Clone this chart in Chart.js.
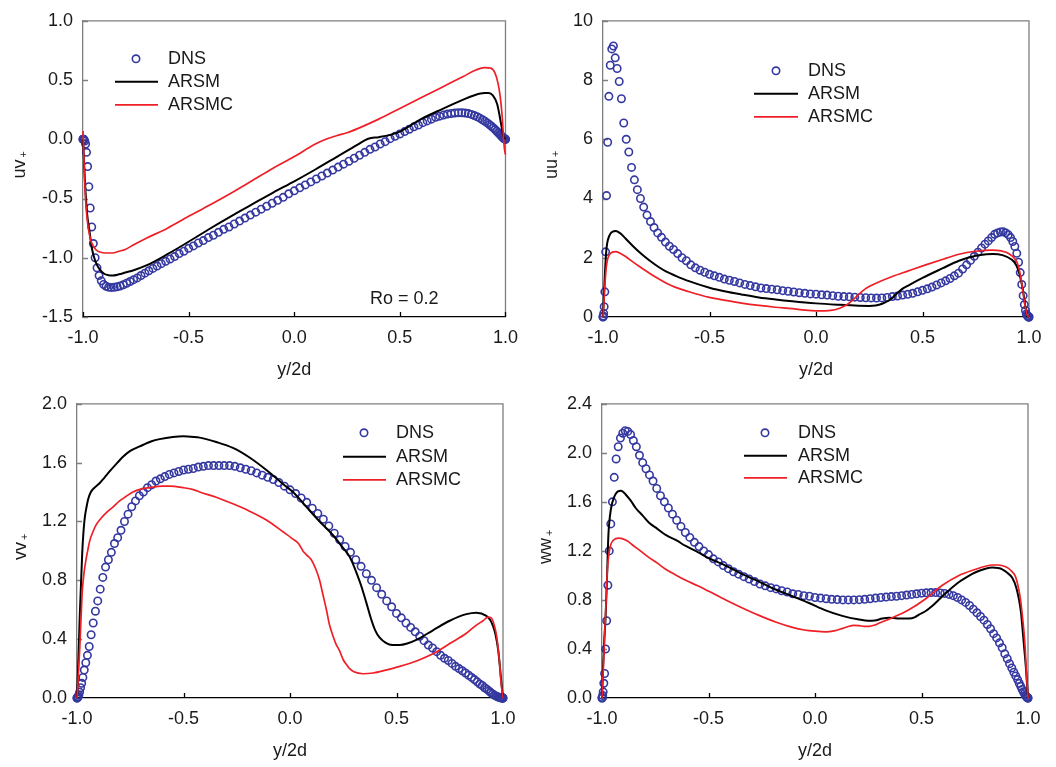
<!DOCTYPE html>
<html>
<head>
<meta charset="utf-8">
<title>Reynolds stresses, Ro = 0.2</title>
<script src="https://cdn.jsdelivr.net/npm/chart.js@4.4.1/dist/chart.umd.min.js"></script>
<style>
  html, body { margin: 0; padding: 0; background: #fff; }
  #figure { position: relative; width: 1056px; height: 767px; overflow: hidden; }
  #figure canvas { position: absolute; }
</style>
</head>
<body>
<div id="figure">
  <canvas id="pUV" width="528" height="383" style="left:0;top:0;width:528px;height:383px"></canvas>
  <canvas id="pUU" width="528" height="383" style="left:528px;top:0;width:528px;height:383px"></canvas>
  <canvas id="pVV" width="528" height="384" style="left:0;top:383px;width:528px;height:384px"></canvas>
  <canvas id="pWW" width="528" height="384" style="left:528px;top:383px;width:528px;height:384px"></canvas>
</div>
<script>
// Wall-normal positions of the DNS samples (y/2d)
const Y2D = [
  -1, -0.9997, -0.9986, -0.9969, -0.9945, -0.9914, -0.9877, -0.9833, -0.9781, -0.9724,
  -0.9659, -0.9588, -0.9511, -0.9426, -0.9336, -0.9239, -0.9135, -0.9026, -0.8910, -0.8788,
  -0.8660, -0.8526, -0.8387, -0.8241, -0.8090, -0.7934, -0.7771, -0.7604, -0.7431, -0.7254,
  -0.7071, -0.6884, -0.6691, -0.6494, -0.6293, -0.6088, -0.5878, -0.5664, -0.5446, -0.5225,
  -0.5000, -0.4772, -0.4540, -0.4305, -0.4067, -0.3827, -0.3584, -0.3338, -0.3090, -0.2840,
  -0.2588, -0.2334, -0.2079, -0.1822, -0.1564, -0.1305, -0.1045, -0.0785, -0.0523, -0.0262,
  0,
  0.0262, 0.0523, 0.0785, 0.1045, 0.1305, 0.1564, 0.1822, 0.2079, 0.2334, 0.2588,
  0.2840, 0.3090, 0.3338, 0.3584, 0.3827, 0.4067, 0.4305, 0.4540, 0.4772, 0.5000,
  0.5225, 0.5446, 0.5664, 0.5878, 0.6088, 0.6293, 0.6494, 0.6691, 0.6884, 0.7071,
  0.7254, 0.7431, 0.7604, 0.7771, 0.7934, 0.8090, 0.8241, 0.8387, 0.8526, 0.8660,
  0.8788, 0.8910, 0.9026, 0.9135, 0.9239, 0.9336, 0.9426, 0.9511, 0.9588, 0.9659,
  0.9724, 0.9781, 0.9833, 0.9877, 0.9914, 0.9945, 0.9969, 0.9986, 0.9997, 1
];

// DNS profiles at the positions above
const DNS_UV = [
  0, 0, 0, 0, -0.005, -0.015, -0.04, -0.11, -0.23, -0.40,
  -0.58, -0.74, -0.88, -1.0, -1.085, -1.15, -1.195, -1.225, -1.24, -1.248,
  -1.25, -1.249, -1.245, -1.238, -1.228, -1.215, -1.20, -1.185, -1.17, -1.15,
  -1.13, -1.11, -1.09, -1.07, -1.05, -1.03, -1.01, -0.99, -0.965, -0.945,
  -0.92, -0.90, -0.875, -0.855, -0.83, -0.81, -0.785, -0.76, -0.74, -0.715,
  -0.69, -0.665, -0.64, -0.615, -0.59, -0.565, -0.54, -0.515, -0.49, -0.46,
  -0.435,
  -0.41, -0.385, -0.36, -0.335, -0.31, -0.285, -0.26, -0.235, -0.21, -0.185,
  -0.16, -0.135, -0.11, -0.085, -0.065, -0.04, -0.02, 0.005, 0.025, 0.045,
  0.065, 0.085, 0.105, 0.12, 0.14, 0.155, 0.17, 0.185, 0.195, 0.205,
  0.213, 0.218, 0.222, 0.224, 0.224, 0.222, 0.217, 0.21, 0.20, 0.19,
  0.178, 0.165, 0.152, 0.138, 0.124, 0.11, 0.096, 0.082, 0.068, 0.055,
  0.043, 0.032, 0.023, 0.015, 0.009, 0.005, 0.002, 0.001, 0, 0
];
const DNS_UU = [
  0, 0.01, 0.03, 0.12, 0.35, 0.85, 2.2, 4.1, 5.9, 7.45,
  8.5, 9.05, 9.15, 8.75, 8.39, 7.95, 7.37, 6.55, 6.0, 5.57,
  5.05, 4.63, 4.3, 4.0, 3.71, 3.44, 3.22, 3.02, 2.84, 2.69,
  2.53, 2.39, 2.28, 2.14, 2.0, 1.9, 1.76, 1.66, 1.58, 1.51,
  1.44, 1.39, 1.34, 1.28, 1.24, 1.2, 1.15, 1.1, 1.06, 1.02,
  0.98, 0.96, 0.94, 0.92, 0.89, 0.87, 0.845, 0.82, 0.8, 0.78,
  0.77,
  0.75, 0.74, 0.72, 0.7, 0.69, 0.68, 0.67, 0.66, 0.65, 0.645,
  0.64, 0.645, 0.66, 0.69, 0.71, 0.74, 0.765, 0.8, 0.85, 0.9,
  0.95, 1.01, 1.08, 1.15, 1.22, 1.3, 1.39, 1.48, 1.62, 1.76,
  1.91, 2.05, 2.19, 2.33, 2.46, 2.57, 2.68, 2.79, 2.84, 2.87,
  2.88, 2.84, 2.78, 2.68, 2.55, 2.38, 2.15, 1.85, 1.5, 1.1,
  0.72, 0.42, 0.22, 0.1, 0.05, 0.02, 0.01, 0, 0, 0
];
const DNS_VV = [
  0, 0, 0.001, 0.004, 0.01, 0.02, 0.04, 0.07, 0.1, 0.14,
  0.19, 0.24, 0.29, 0.35, 0.43, 0.51, 0.59, 0.66, 0.74, 0.82,
  0.89, 0.94, 0.99, 1.05, 1.09, 1.14, 1.2, 1.25, 1.3, 1.34,
  1.375, 1.4, 1.43, 1.45, 1.475, 1.49, 1.505, 1.52, 1.53, 1.54,
  1.55, 1.555, 1.56, 1.57, 1.575, 1.58, 1.58, 1.58, 1.58, 1.58,
  1.575, 1.565, 1.555, 1.545, 1.53, 1.515, 1.5, 1.485, 1.465, 1.44,
  1.415,
  1.39, 1.36, 1.33, 1.29, 1.255, 1.215, 1.17, 1.12, 1.075, 1.03,
  0.99, 0.94, 0.895, 0.845, 0.8, 0.75, 0.705, 0.66, 0.62, 0.575,
  0.545, 0.51, 0.48, 0.45, 0.42, 0.39, 0.36, 0.34, 0.315, 0.29,
  0.27, 0.255, 0.235, 0.215, 0.2, 0.185, 0.17, 0.155, 0.14, 0.125,
  0.11, 0.095, 0.085, 0.07, 0.06, 0.048, 0.037, 0.028, 0.02, 0.014,
  0.009, 0.006, 0.004, 0.002, 0.001, 0, 0, 0, 0, 0
];
const DNS_WW = [
  0, 0, 0.005, 0.02, 0.05, 0.12, 0.2, 0.4, 0.63, 0.92,
  1.2, 1.42, 1.6, 1.8, 1.95, 2.05, 2.12, 2.16, 2.18, 2.175,
  2.15, 2.1, 2.05, 1.98, 1.92, 1.87, 1.82, 1.77, 1.71, 1.65,
  1.6, 1.55, 1.5, 1.45, 1.4, 1.35, 1.31, 1.27, 1.235, 1.2,
  1.17, 1.135, 1.11, 1.08, 1.055, 1.03, 1.01, 0.99, 0.97, 0.95,
  0.93, 0.915, 0.9, 0.89, 0.875, 0.865, 0.85, 0.845, 0.835, 0.83,
  0.82,
  0.815, 0.81, 0.805, 0.803, 0.8, 0.8, 0.8, 0.802, 0.805, 0.81,
  0.815, 0.82, 0.823, 0.827, 0.83, 0.835, 0.84, 0.845, 0.85, 0.855,
  0.858, 0.86, 0.86, 0.857, 0.853, 0.845, 0.835, 0.82, 0.8, 0.78,
  0.755, 0.725, 0.695, 0.665, 0.635, 0.6, 0.565, 0.525, 0.49, 0.45,
  0.41, 0.36, 0.32, 0.28, 0.245, 0.21, 0.18, 0.15, 0.12, 0.095,
  0.07, 0.05, 0.035, 0.022, 0.013, 0.006, 0.003, 0.001, 0, 0
];

// Model predictions: [y/2d, value]
const ARSM_UV = [[-1,0],[-0.995,-0.2],[-0.99,-0.38],[-0.981,-0.62],[-0.969,-0.78],[-0.958,-0.92],[-0.945,-1.01],[-0.934,-1.06],[-0.92,-1.1],[-0.9,-1.135],[-0.88,-1.147],[-0.86,-1.15],[-0.83,-1.14],[-0.8,-1.125],[-0.76,-1.105],[-0.7,-1.065],[-0.6,-0.97],[-0.5,-0.865],[-0.4,-0.755],[-0.3,-0.65],[-0.2,-0.55],[-0.1,-0.45],[0,-0.355],[0.1,-0.255],[0.2,-0.15],[0.3,-0.045],[0.35,0.005],[0.4,0.018],[0.45,0.035],[0.5,0.065],[0.6,0.17],[0.7,0.255],[0.8,0.335],[0.85,0.37],[0.9,0.39],[0.92,0.39],[0.94,0.37],[0.96,0.3],[0.97,0.22],[0.98,0.12],[0.99,0.03],[1,0]];
const ARSMC_UV = [[-1,0.07],[-0.997,-0.1],[-0.993,-0.3],[-0.988,-0.5],[-0.98,-0.68],[-0.97,-0.8],[-0.96,-0.87],[-0.94,-0.93],[-0.92,-0.952],[-0.89,-0.96],[-0.86,-0.96],[-0.83,-0.945],[-0.8,-0.93],[-0.76,-0.89],[-0.7,-0.835],[-0.6,-0.75],[-0.5,-0.65],[-0.4,-0.555],[-0.3,-0.455],[-0.2,-0.35],[-0.1,-0.245],[0,-0.146],[0.1,-0.04],[0.15,0.0],[0.2,0.03],[0.25,0.055],[0.3,0.09],[0.4,0.17],[0.5,0.26],[0.6,0.35],[0.7,0.44],[0.8,0.53],[0.86,0.585],[0.9,0.605],[0.93,0.6],[0.95,0.56],[0.965,0.47],[0.975,0.36],[0.985,0.18],[0.99,0.03],[0.995,-0.08],[1,-0.13]];

const ARSM_UU = [[-1,0],[-0.995,0.8],[-0.99,1.6],[-0.985,2.2],[-0.98,2.5],[-0.97,2.75],[-0.955,2.88],[-0.94,2.9],[-0.92,2.83],[-0.894,2.65],[-0.86,2.4],[-0.815,2.1],[-0.78,1.9],[-0.737,1.68],[-0.7,1.52],[-0.659,1.39],[-0.6,1.22],[-0.5,0.99],[-0.424,0.86],[-0.35,0.76],[-0.268,0.66],[-0.19,0.59],[-0.111,0.53],[0,0.46],[0.1,0.415],[0.2,0.38],[0.25,0.375],[0.28,0.39],[0.3,0.42],[0.327,0.5],[0.35,0.6],[0.374,0.75],[0.405,0.95],[0.437,1.08],[0.5,1.32],[0.593,1.64],[0.671,1.9],[0.75,2.07],[0.8,2.12],[0.83,2.13],[0.875,2.09],[0.92,1.93],[0.94,1.75],[0.953,1.5],[0.962,1.25],[0.97,0.97],[0.978,0.6],[0.984,0.3],[0.992,0.06],[1,0]];
const ARSMC_UU = [[-1,0],[-0.995,0.6],[-0.99,1.2],[-0.985,1.65],[-0.98,1.9],[-0.97,2.1],[-0.955,2.19],[-0.94,2.21],[-0.92,2.15],[-0.894,2.04],[-0.86,1.86],[-0.815,1.64],[-0.78,1.47],[-0.737,1.28],[-0.7,1.13],[-0.659,1.0],[-0.6,0.86],[-0.5,0.66],[-0.424,0.56],[-0.35,0.47],[-0.268,0.39],[-0.19,0.33],[-0.111,0.28],[-0.05,0.23],[0,0.21],[0.04,0.21],[0.077,0.23],[0.1,0.27],[0.124,0.34],[0.15,0.44],[0.171,0.56],[0.2,0.76],[0.23,0.94],[0.264,1.08],[0.3,1.2],[0.358,1.37],[0.43,1.55],[0.515,1.76],[0.6,1.96],[0.671,2.12],[0.75,2.22],[0.828,2.26],[0.87,2.23],[0.9,2.16],[0.937,1.93],[0.95,1.72],[0.961,1.35],[0.97,0.95],[0.977,0.58],[0.985,0.26],[0.992,0.06],[1,0]];

const ARSM_VV = [[-1,0],[-0.995,0.2],[-0.99,0.42],[-0.987,0.56],[-0.98,0.82],[-0.975,1.0],[-0.97,1.12],[-0.964,1.22],[-0.955,1.3],[-0.948,1.35],[-0.935,1.4],[-0.925,1.42],[-0.91,1.44],[-0.894,1.46],[-0.87,1.5],[-0.847,1.54],[-0.81,1.6],[-0.784,1.64],[-0.75,1.68],[-0.706,1.71],[-0.65,1.745],[-0.612,1.76],[-0.55,1.775],[-0.502,1.78],[-0.45,1.775],[-0.424,1.77],[-0.346,1.74],[-0.268,1.7],[-0.19,1.635],[-0.111,1.55],[-0.033,1.455],[0.014,1.4],[0.077,1.3],[0.139,1.2],[0.2,1.11],[0.249,1.02],[0.28,0.96],[0.296,0.91],[0.315,0.84],[0.335,0.76],[0.358,0.65],[0.38,0.54],[0.4,0.46],[0.421,0.41],[0.45,0.375],[0.48,0.36],[0.515,0.36],[0.55,0.37],[0.593,0.395],[0.671,0.46],[0.75,0.525],[0.828,0.57],[0.875,0.58],[0.92,0.56],[0.94,0.53],[0.953,0.49],[0.965,0.43],[0.977,0.33],[0.985,0.22],[0.992,0.11],[1,0]];
const ARSMC_VV = [[-1,0],[-0.995,0.12],[-0.99,0.26],[-0.987,0.34],[-0.98,0.58],[-0.975,0.73],[-0.967,0.85],[-0.959,0.93],[-0.95,1.0],[-0.94,1.07],[-0.925,1.13],[-0.909,1.18],[-0.885,1.225],[-0.862,1.26],[-0.83,1.3],[-0.8,1.34],[-0.77,1.37],[-0.737,1.4],[-0.7,1.42],[-0.659,1.43],[-0.6,1.44],[-0.565,1.44],[-0.502,1.43],[-0.45,1.415],[-0.424,1.4],[-0.346,1.365],[-0.268,1.32],[-0.19,1.27],[-0.111,1.21],[-0.033,1.13],[0.014,1.08],[0.04,1.05],[0.061,1.0],[0.08,0.97],[0.1,0.94],[0.12,0.88],[0.139,0.8],[0.155,0.7],[0.171,0.6],[0.185,0.5],[0.2,0.43],[0.215,0.37],[0.233,0.32],[0.25,0.26],[0.264,0.23],[0.28,0.2],[0.3,0.178],[0.343,0.165],[0.39,0.17],[0.45,0.19],[0.515,0.215],[0.6,0.255],[0.671,0.3],[0.75,0.37],[0.828,0.44],[0.87,0.49],[0.906,0.525],[0.93,0.55],[0.945,0.545],[0.96,0.49],[0.97,0.42],[0.977,0.34],[0.985,0.22],[0.99,0.12],[1,0]];

const ARSM_WW = [[-1,0],[-0.995,0.25],[-0.99,0.45],[-0.983,0.67],[-0.977,0.95],[-0.97,1.33],[-0.963,1.48],[-0.955,1.57],[-0.945,1.63],[-0.936,1.665],[-0.925,1.685],[-0.912,1.69],[-0.9,1.68],[-0.889,1.66],[-0.865,1.61],[-0.842,1.55],[-0.81,1.49],[-0.779,1.43],[-0.74,1.38],[-0.701,1.33],[-0.65,1.285],[-0.607,1.24],[-0.55,1.19],[-0.498,1.14],[-0.419,1.08],[-0.341,1.01],[-0.263,0.95],[-0.185,0.885],[-0.106,0.83],[-0.028,0.775],[0.05,0.715],[0.128,0.67],[0.207,0.64],[0.25,0.63],[0.28,0.632],[0.316,0.648],[0.347,0.655],[0.37,0.652],[0.394,0.648],[0.441,0.648],[0.47,0.66],[0.488,0.68],[0.52,0.71],[0.55,0.75],[0.58,0.8],[0.613,0.854],[0.676,0.946],[0.72,0.995],[0.754,1.026],[0.8,1.055],[0.832,1.065],[0.86,1.06],[0.879,1.05],[0.9,1.025],[0.926,0.98],[0.945,0.9],[0.958,0.8],[0.967,0.7],[0.973,0.59],[0.98,0.45],[0.99,0.25],[1,0]];
const ARSMC_WW = [[-1,0],[-0.995,0.2],[-0.99,0.4],[-0.987,0.54],[-0.98,0.82],[-0.975,1.04],[-0.968,1.17],[-0.959,1.25],[-0.948,1.285],[-0.936,1.3],[-0.92,1.305],[-0.905,1.3],[-0.88,1.28],[-0.858,1.25],[-0.82,1.2],[-0.779,1.145],[-0.74,1.1],[-0.701,1.05],[-0.65,1.0],[-0.607,0.96],[-0.55,0.915],[-0.498,0.87],[-0.419,0.8],[-0.341,0.735],[-0.263,0.674],[-0.185,0.62],[-0.106,0.576],[-0.05,0.555],[0,0.545],[0.05,0.54],[0.09,0.548],[0.13,0.568],[0.16,0.585],[0.18,0.592],[0.207,0.59],[0.23,0.585],[0.254,0.584],[0.28,0.595],[0.3,0.61],[0.363,0.655],[0.441,0.72],[0.52,0.81],[0.598,0.92],[0.676,1.0],[0.754,1.05],[0.8,1.075],[0.832,1.085],[0.86,1.085],[0.895,1.07],[0.92,1.04],[0.942,0.986],[0.955,0.9],[0.965,0.8],[0.973,0.68],[0.981,0.54],[0.987,0.4],[0.992,0.22],[1,0]];

// Axis ticks and their labels
const X_TICKS = [-1, -0.5, 0, 0.5, 1];
const X_TICK_LABELS = ['-1.0', '-0.5', '0.0', '0.5', '1.0'];
const UV_TICKS = [-1.5, -1, -0.5, 0, 0.5, 1];
const UV_TICK_LABELS = ['-1.5', '-1.0', '-0.5', '0.0', '0.5', '1.0'];
const UU_TICKS = [0, 2, 4, 6, 8, 10];
const UU_TICK_LABELS = ['0', '2', '4', '6', '8', '10'];
const VV_TICKS = [0, 0.4, 0.8, 1.2, 1.6, 2.0];
const VV_TICK_LABELS = ['0.0', '0.4', '0.8', '1.2', '1.6', '2.0'];
const WW_TICKS = [0, 0.4, 0.8, 1.2, 1.6, 2.0, 2.4];
const WW_TICK_LABELS = ['0.0', '0.4', '0.8', '1.2', '1.6', '2.0', '2.4'];

const SERIES_NAMES = ['DNS', 'ARSM', 'ARSMC'];

const FONT_FAMILY = "'Liberation Sans', Arial, Helvetica, sans-serif";
const TEXT = '#1a1a1a';
const BLUE = '#3438a0';
const RED = '#ee1f26';
const GREY = '#7f7f7f';

Chart.defaults.font.family = FONT_FAMILY;

// closed frame and inward-pointing tick marks
const framePlugin = {
  id: 'frame',
  beforeDatasetsDraw(chart) {
    const { ctx, chartArea: a, scales: { x, y } } = chart;
    ctx.save();
    ctx.lineWidth = 1.3;
    ctx.strokeStyle = GREY;
    ctx.beginPath();
    ctx.moveTo(a.left, a.top);
    ctx.lineTo(a.right, a.top);
    ctx.lineTo(a.right, a.bottom);
    ctx.stroke();
    ctx.beginPath();
    y.ticks.forEach(t => {
      const py = Math.round(y.getPixelForValue(t.value)) + 0.5;
      ctx.moveTo(a.left, py);
      ctx.lineTo(a.left + 5, py);
    });
    ctx.stroke();
    ctx.strokeStyle = '#000';
    ctx.beginPath();
    x.ticks.forEach(t => {
      const px = Math.round(x.getPixelForValue(t.value)) + 0.5;
      ctx.moveTo(px, a.bottom);
      ctx.lineTo(px, a.bottom - 5);
    });
    ctx.stroke();
    ctx.restore();
  }
};

// series key, the "+" of the y title and an optional note
function keyPlugin(spec) {
  return {
    id: 'seriesKey',
    afterDraw(chart) {
      const { ctx, chartArea: a, scales: { y } } = chart;
      const k = spec.key;
      ctx.save();
      ctx.font = `18px ${FONT_FAMILY}`;
      ctx.fillStyle = TEXT;
      ctx.textAlign = 'left';
      ctx.textBaseline = 'middle';
      chart.data.datasets.forEach((ds, i) => {
        const yy = a.top + k.rows[i];
        if (i === 0) {
          ctx.beginPath();
          ctx.lineWidth = ds.pointBorderWidth;
          ctx.strokeStyle = ds.pointBorderColor;
          ctx.arc(a.left + k.marker, yy, ds.pointRadius, 0, Math.PI * 2);
          ctx.stroke();
        } else {
          ctx.beginPath();
          ctx.lineWidth = ds.borderWidth;
          ctx.strokeStyle = ds.borderColor;
          ctx.moveTo(a.left + k.line[0], yy);
          ctx.lineTo(a.left + k.line[1], yy);
          ctx.stroke();
        }
        ctx.fillText(ds.label, a.left + k.text, yy);
      });
      if (spec.note) {
        ctx.fillText(spec.note.text, a.left + spec.note.x, a.top + spec.note.y);
      }
      // "+" mark that follows the rotated y title
      const titleX = y.left + 10.8 + spec.yTitlePad;
      const titleMid = (y.top + y.bottom) / 2;
      const w = ctx.measureText(spec.yTitle).width;
      ctx.translate(titleX + 4, titleMid - w / 2 - 5);
      ctx.rotate(-Math.PI / 2);
      ctx.font = `11px ${FONT_FAMILY}`;
      ctx.textAlign = 'center';
      ctx.fillText('+', 0, 0);
      ctx.restore();
    }
  };
}

function makePanel(spec) {
  const axisFont = { family: FONT_FAMILY, size: 18, lineHeight: 1.2 };
  return new Chart(document.getElementById(spec.id), {
    type: 'scatter',
    data: {
      datasets: [
        {
          label: SERIES_NAMES[0],
          data: Y2D.map((x, i) => ({ x, y: spec.dns[i] })),
          showLine: false,
          pointStyle: 'circle',
          pointRadius: 3.7,
          pointBorderWidth: 1.6,
          pointBorderColor: BLUE,
          pointBackgroundColor: 'rgba(0,0,0,0)',
          order: 3,
          clip: false
        },
        {
          label: SERIES_NAMES[1],
          data: spec.arsm.map(([x, y]) => ({ x, y })),
          showLine: true,
          pointRadius: 0,
          borderColor: '#000',
          borderWidth: 2,
          cubicInterpolationMode: 'monotone',
          order: 2,
          clip: false
        },
        {
          label: SERIES_NAMES[2],
          data: spec.arsmc.map(([x, y]) => ({ x, y })),
          showLine: true,
          pointRadius: 0,
          borderColor: RED,
          borderWidth: 1.7,
          cubicInterpolationMode: 'monotone',
          order: 1,
          clip: false
        }
      ]
    },
    options: {
      responsive: false,
      animation: false,
      devicePixelRatio: 1,
      events: [],
      layout: { padding: { left: 0, top: spec.pad.top, right: spec.pad.right, bottom: spec.pad.bottom } },
      plugins: { legend: { display: false }, tooltip: { enabled: false } },
      scales: {
        x: {
          type: 'linear',
          min: -1,
          max: 1,
          afterBuildTicks: s => { s.ticks = X_TICKS.map(v => ({ value: v })); },
          afterFit: s => { s.height = 64; },
          ticks: {
            callback: (v, i) => X_TICK_LABELS[i],
            font: axisFont, color: TEXT, padding: 10,
            maxRotation: 0, minRotation: 0, autoSkip: false
          },
          grid: { display: false, drawTicks: false },
          border: { display: true, color: '#000', width: 1.3 },
          title: { display: true, text: 'y/2d', font: axisFont, color: TEXT, padding: { top: 0, bottom: 0 } }
        },
        y: {
          type: 'linear',
          min: spec.yTicks[0],
          max: spec.yTicks[spec.yTicks.length - 1],
          afterBuildTicks: s => { s.ticks = spec.yTicks.map(v => ({ value: v })); },
          afterFit: s => { s.width = spec.yWidth; },
          ticks: {
            callback: (v, i) => spec.yLabels[i],
            font: axisFont, color: TEXT, padding: 10, autoSkip: false
          },
          grid: { display: false, drawTicks: false },
          border: { display: true, color: GREY, width: 1.3 },
          title: { display: true, text: spec.yTitle, font: axisFont, color: TEXT, padding: { top: spec.yTitlePad, bottom: 0 } }
        }
      }
    },
    plugins: [framePlugin, keyPlugin(spec)]
  });
}

makePanel({
  id: 'pUV', dns: DNS_UV, arsm: ARSM_UV, arsmc: ARSMC_UV,
  yTicks: UV_TICKS, yLabels: UV_TICK_LABELS, yTitle: 'uv',
  yWidth: 83, yTitlePad: 9, pad: { top: 15, right: 19, bottom: 2 },
  key: { marker: 53, line: [32, 75], text: 85, rows: [38, 61, 84] },
  note: { text: 'Ro = 0.2', x: 287, y: 278 }
});
makePanel({
  id: 'pUU', dns: DNS_UU, arsm: ARSM_UU, arsmc: ARSMC_UU,
  yTicks: UU_TICKS, yLabels: UU_TICK_LABELS, yTitle: 'uu',
  yWidth: 75, yTitlePad: 13, pad: { top: 15, right: 27, bottom: 2 },
  key: { marker: 173, line: [151, 195], text: 205, rows: [50, 73, 96] }
});
makePanel({
  id: 'pVV', dns: DNS_VV, arsm: ARSM_VV, arsmc: ARSMC_VV,
  yTicks: VV_TICKS, yLabels: VV_TICK_LABELS, yTitle: 'vv',
  yWidth: 77, yTitlePad: 10, pad: { top: 13, right: 25, bottom: 5 },
  key: { marker: 287, line: [266, 309], text: 319, rows: [29, 53, 76] }
});
makePanel({
  id: 'pWW', dns: DNS_WW, arsm: ARSM_WW, arsmc: ARSMC_WW,
  yTicks: WW_TICKS, yLabels: WW_TICK_LABELS, yTitle: 'ww',
  yWidth: 74, yTitlePad: 7, pad: { top: 12, right: 28, bottom: 5 },
  key: { marker: 163, line: [142, 185], text: 196, rows: [29, 52, 74] }
});
</script>
</body>
</html>
